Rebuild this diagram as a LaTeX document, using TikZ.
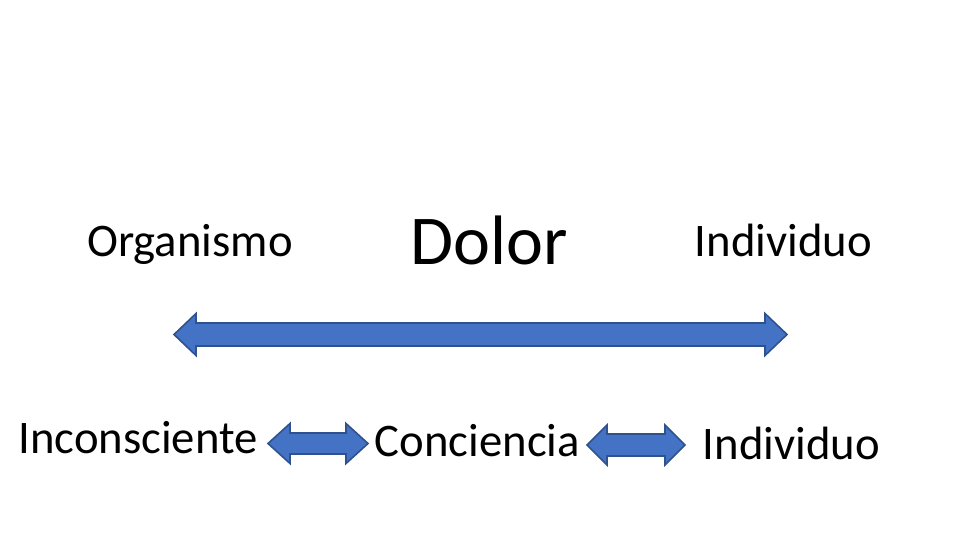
\documentclass[tikz,border=0pt]{standalone}
\usepackage{fontspec}
\setmainfont{Carlito}
\definecolor{arrfill}{HTML}{4472C4}
\definecolor{arrline}{HTML}{2F528F}
\tikzset{
  lbl/.style={anchor=base, inner sep=0pt, font=\fontsize{46.7}{50}\selectfont},
  big/.style={anchor=base, inner sep=0pt, font=\fontsize{70}{74}\selectfont},
  dblarrow/.style={fill=arrfill, draw=arrline, line width=1.6pt, line join=miter}
}
\newcommand{\dblarr}[7]{% x1 x2 yc halfshaft halfhead headlen name
  \path[dblarrow] (#1,#3) -- (#1+#6,#3-#5) -- (#1+#6,#3-#4) -- (#2-#6,#3-#4) -- (#2-#6,#3-#5)
    -- (#2,#3) -- (#2-#6,#3+#5) -- (#2-#6,#3+#4) -- (#1+#6,#3+#4) -- (#1+#6,#3+#5) -- cycle;
  \coordinate (#7) at ({(#1+#2)/2},#3);
}
\begin{document}
\begin{tikzpicture}[x=1pt,y=-1pt]
\useasboundingbox[fill=white] (0,0) rectangle (960,540);
\node[lbl] (org) at (190,256) {Organismo};
\node[big] (dol) at (489,264) {Dolor};
\node[lbl] (ind1) at (783.5,256) {Individuo};
\node[lbl] (inc) at (138,453) {Inconsciente};
\node[lbl] (con) at (477.5,456) {Conciencia};
\node[lbl] (ind2) at (791.5,459) {Individuo};
\dblarr{174}{787}{334.5}{11.5}{21}{22}{a1}
\dblarr{268}{368}{443.5}{10.5}{20}{22}{a2}
\dblarr{587}{685}{445}{11}{20}{20}{a3}
\end{tikzpicture}
\end{document}
